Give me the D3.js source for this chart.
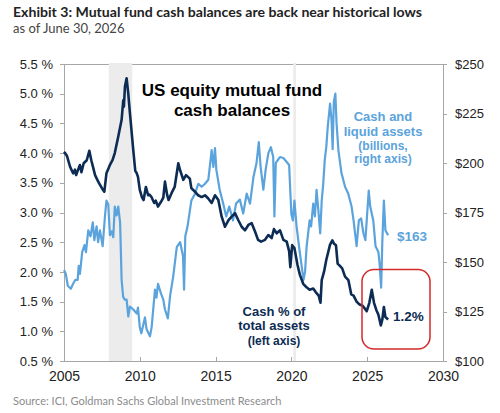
<!doctype html>
<html lang="en">
  <head>
    <meta charset="UTF-8" />
    <title>Mutual fund cash balances</title>
    <script src="https://d3js.org/d3.v7.min.js"></script>
    <style>
      body {
        margin: 0;
        background: #fff;
      }
      .axis text {
        font-family: 'Liberation Sans', Arial, sans-serif;
        fill: #222;
      }
      .axis path,
      .axis line {
        stroke: #a6a6a6;
        shape-rendering: crispEdges;
      }
    </style>
  </head>
  <body>
    <div id="chart"></div>
    <script>
      // Cash % of total assets (left axis)
      const cashPctYears = [
        2005.0, 2005.1, 2005.2, 2005.4, 2005.6, 2005.72, 2005.8, 2005.9, 2006.05, 2006.15,
        2006.3, 2006.5, 2006.67, 2006.8, 2006.9, 2007.05, 2007.2, 2007.3, 2007.5, 2007.66,
        2007.8, 2008.03, 2008.2, 2008.35, 2008.58, 2008.8, 2008.91, 2008.95, 2009.02, 2009.13,
        2009.24, 2009.35, 2009.57, 2009.7, 2009.8, 2009.88, 2010.0, 2010.15, 2010.25, 2010.4,
        2010.55, 2010.65, 2010.77, 2010.95, 2011.05, 2011.2, 2011.4, 2011.55, 2011.66, 2011.8,
        2011.9, 2012.1, 2012.3, 2012.54, 2012.65, 2012.87, 2013.05, 2013.3, 2013.4, 2013.64,
        2013.85, 2014.08, 2014.3, 2014.5, 2014.74, 2014.96, 2015.18, 2015.4, 2015.62, 2015.85,
        2016.06, 2016.28, 2016.5, 2016.72, 2016.94, 2017.16, 2017.38, 2017.6, 2017.8, 2018.0,
        2018.26, 2018.48, 2018.7, 2018.85, 2019.03, 2019.25, 2019.47, 2019.69, 2019.85, 2019.93,
        2020.05, 2020.2, 2020.4, 2020.56, 2020.78, 2021.0, 2021.2, 2021.44, 2021.6, 2021.8,
        2021.92, 2022.0, 2022.15, 2022.3, 2022.55, 2022.7, 2022.8, 2022.94, 2023.05, 2023.2,
        2023.35, 2023.54, 2023.76, 2023.95, 2024.1, 2024.3, 2024.5, 2024.7, 2024.97, 2025.14,
        2025.3, 2025.45, 2025.6, 2025.74, 2025.9, 2026.0, 2026.1, 2026.2, 2026.38,
      ];
      const cashPctValues = [
        4.02, 3.99, 3.95, 3.77, 3.66, 3.72, 3.63, 3.7, 3.8, 3.68,
        3.83, 3.88, 4.04, 3.88, 3.78, 3.63, 3.55, 3.5, 3.41, 3.35,
        3.66, 3.8, 3.88, 4.0, 4.28, 4.56, 4.89, 4.78, 5.12, 5.26,
        5.0, 4.67, 4.05, 3.7, 3.66, 3.6, 3.38, 3.25, 3.21, 3.43,
        3.29, 3.3, 3.26, 3.16, 3.2, 3.1, 3.18, 3.25, 3.52, 3.3,
        3.21, 3.33, 3.43, 3.83, 3.72, 3.55, 3.63, 3.57, 3.41, 3.35,
        3.29, 3.26, 3.29, 3.24, 3.16, 3.29, 3.21, 2.93, 2.76, 2.87,
        2.93, 2.99, 2.87, 2.76, 2.7, 2.79, 2.82, 2.68, 2.54, 2.51,
        2.54, 2.62, 2.57, 2.72, 2.65, 2.7, 2.54, 2.51, 2.35, 2.08,
        2.45, 2.4, 2.12, 1.95, 1.8, 1.74, 1.7, 1.72, 1.66, 1.6,
        1.48, 1.86, 2.0, 2.2, 2.46, 2.53, 2.48, 2.45, 2.14, 2.1,
        2.06, 1.92, 1.86, 1.62, 1.6, 1.5, 1.45, 1.43, 1.34, 1.48,
        1.7, 1.48, 1.36, 1.28, 1.1, 1.2, 1.41, 1.24, 1.2,
      ];

      // Cash and liquid assets, $ billions (right axis)
      const liquidYears = [
        2005.0, 2005.12, 2005.25, 2005.45, 2005.6, 2005.75, 2005.9, 2005.97, 2006.05, 2006.2,
        2006.35, 2006.45, 2006.6, 2006.75, 2006.9, 2007.0, 2007.15, 2007.25, 2007.37, 2007.55,
        2007.7, 2007.8, 2007.92, 2008.03, 2008.15, 2008.25, 2008.35, 2008.47, 2008.58, 2008.7,
        2008.8, 2008.9, 2009.0, 2009.13, 2009.24, 2009.35, 2009.57, 2009.8, 2009.88, 2010.0,
        2010.1, 2010.34, 2010.45, 2010.67, 2010.78, 2011.0, 2011.1, 2011.2, 2011.4, 2011.55,
        2011.66, 2011.85, 2012.0, 2012.2, 2012.44, 2012.66, 2012.85, 2012.92, 2013.0, 2013.15,
        2013.4, 2013.64, 2013.86, 2014.08, 2014.3, 2014.52, 2014.74, 2014.85, 2014.96, 2015.05,
        2015.27, 2015.5, 2015.7, 2015.9, 2016.15, 2016.35, 2016.6, 2016.82, 2017.05, 2017.27,
        2017.5, 2017.7, 2017.85, 2017.97, 2018.15, 2018.3, 2018.48, 2018.65, 2018.8, 2018.88,
        2018.97, 2019.1, 2019.25, 2019.47, 2019.69, 2019.85, 2019.92, 2020.0, 2020.1, 2020.2,
        2020.34, 2020.56, 2020.8, 2020.9, 2021.0, 2021.2, 2021.3, 2021.44, 2021.55, 2021.66,
        2021.78, 2021.9, 2022.0, 2022.1, 2022.2, 2022.3, 2022.4, 2022.55, 2022.65, 2022.72,
        2022.8, 2022.9, 2022.98, 2023.1, 2023.3, 2023.54, 2023.75, 2023.97, 2024.1, 2024.3,
        2024.45, 2024.6, 2024.75, 2024.88, 2024.97, 2025.1, 2025.2, 2025.4, 2025.55, 2025.74,
        2025.82, 2025.92, 2026.0, 2026.1, 2026.2, 2026.38,
      ];
      const liquidValues = [
        146, 144, 138, 136.5, 139, 141, 141, 148, 144, 155,
        158.5, 155, 166, 163, 170, 161, 168, 160, 166, 158,
        173, 181, 179, 163.5, 165.5, 162.5, 178, 173.5, 178, 170,
        141, 132.5, 131, 131, 122.5, 127.5, 126, 124, 127, 117,
        114, 122, 116, 112.5, 117, 136, 132, 139, 134, 131,
        126, 121.5, 133, 142.5, 157.5, 160, 153, 136, 163, 168,
        181, 184.5, 189.5, 188, 189.5, 191.5, 206.5, 198, 207.5, 196.5,
        186.5, 179.5, 173, 178, 171, 179.5, 181.5, 174.5, 184.5, 179.5,
        193, 200, 210.5, 198, 186.5, 196.5, 205, 208, 203, 173,
        200, 201.5, 203, 202.5, 200.5, 199, 187, 174, 171, 181,
        168, 154.5, 141, 145, 157.5, 171, 168, 179.5, 173, 186.5,
        176, 164.5, 181, 189.5, 201.5, 208, 218.5, 230, 221.5, 207,
        231, 235, 220, 206.5, 195, 188, 184.5, 178, 171, 158,
        171, 172, 164.5, 161, 171, 186, 178, 171, 158, 155,
        149, 137, 161, 181, 166, 163.5,
      ];

      const recessions = [
        [2007.95, 2009.5],
        [2020.12, 2020.3],
      ];
      const xTicks = [2005, 2010, 2015, 2020, 2025, 2030];
      const leftTicks = [0.5, 1.0, 1.5, 2.0, 2.5, 3.0, 3.5, 4.0, 4.5, 5.0, 5.5];
      const rightTicks = [100, 125, 150, 175, 200, 225, 250];

      const W = 500;
      const H = 413;
      const plot = { left: 64, right: 443, top: 64, bottom: 361 };
      const navy = '#0d2c54';
      const sky = '#5ba3dc';

      const svg = d3
        .select('#chart')
        .append('svg')
        .attr('width', W)
        .attr('height', H);

      const x = d3.scaleLinear().domain([2005, 2030]).range([plot.left, plot.right]);
      const yL = d3.scaleLinear().domain([0.5, 5.5]).range([plot.bottom, plot.top]);
      const yR = d3.scaleLinear().domain([100, 250]).range([plot.bottom, plot.top]);

      // top frame line
      svg
        .append('line')
        .attr('x1', plot.left)
        .attr('x2', plot.right)
        .attr('y1', plot.top + 0.5)
        .attr('y2', plot.top + 0.5)
        .attr('stroke', '#a6a6a6');

      // recession shading
      svg
        .selectAll('.rec')
        .data(recessions)
        .enter()
        .append('rect')
        .attr('class', 'rec')
        .attr('x', (d) => x(d[0]))
        .attr('width', (d) => x(d[1]) - x(d[0]))
        .attr('y', plot.top - 1)
        .attr('height', plot.bottom - plot.top + 1)
        .attr('fill', '#ececec');

      // axes
      svg
        .append('g')
        .attr('class', 'axis')
        .attr('transform', `translate(${plot.left},0)`)
        .call(
          d3
            .axisLeft(yL)
            .tickValues(leftTicks)
            .tickSize(4)
            .tickPadding(7)
            .tickFormat((d) => d3.format('.1f')(d) + ' %'),
        )
        .selectAll('text')
        .style('font-size', '13px');

      svg
        .append('g')
        .attr('class', 'axis')
        .attr('transform', `translate(${plot.right},0)`)
        .call(
          d3
            .axisRight(yR)
            .tickValues(rightTicks)
            .tickSize(4)
            .tickPadding(8)
            .tickFormat((d) => '$' + d),
        )
        .selectAll('text')
        .style('font-size', '13px');

      svg
        .append('g')
        .attr('class', 'axis')
        .attr('transform', `translate(0,${plot.bottom})`)
        .call(
          d3
            .axisBottom(x)
            .tickValues(xTicks)
            .tickSize(-4)
            .tickPadding(10)
            .tickFormat(d3.format('d')),
        )
        .selectAll('text')
        .style('font-size', '14px');

      // lines
      const liquidLine = d3
        .line()
        .x((d, i) => x(liquidYears[i]))
        .y((d) => yR(d));
      const pctLine = d3
        .line()
        .x((d, i) => x(cashPctYears[i]))
        .y((d) => yL(d));

      svg
        .append('path')
        .datum(liquidValues)
        .attr('d', liquidLine)
        .attr('fill', 'none')
        .attr('stroke', sky)
        .attr('stroke-width', 2.2)
        .attr('stroke-linejoin', 'round');

      svg
        .append('path')
        .datum(cashPctValues)
        .attr('d', pctLine)
        .attr('fill', 'none')
        .attr('stroke', navy)
        .attr('stroke-width', 2.6)
        .attr('stroke-linejoin', 'round');

      // red highlight box
      svg
        .append('rect')
        .attr('x', 362)
        .attr('y', 269.5)
        .attr('width', 68)
        .attr('height', 79.5)
        .attr('rx', 12)
        .attr('fill', 'none')
        .attr('stroke', '#d42a2a')
        .attr('stroke-width', 1.5);

      // titles
      const sans = 'Lato, "Open Sans", sans-serif';
      svg
        .append('text')
        .attr('x', 13)
        .attr('y', 17)
        .style('font-family', sans)
        .style('font-weight', 'bold')
        .style('font-size', '14.1px')
        .attr('fill', '#222')
        .text('Exhibit 3: Mutual fund cash balances are back near historical lows');
      svg
        .append('text')
        .attr('x', 13)
        .attr('y', 33)
        .style('font-family', sans)
        .style('font-size', '13px')
        .attr('fill', '#444')
        .text('as of June 30, 2026');
      svg
        .append('text')
        .attr('x', 13)
        .attr('y', 405)
        .style('font-family', sans)
        .style('font-size', '11px')
        .attr('fill', '#8c8c8c')
        .text('Source: ICI, Goldman Sachs Global Investment Research');

      // annotations
      const arial = '"Liberation Sans", Arial, sans-serif';
      function label(lines, cx, y0, step, size, color) {
        lines.forEach((t, i) => {
          svg
            .append('text')
            .attr('x', cx)
            .attr('y', y0 + d3.sum(step.slice(0, i + 1)))
            .attr('text-anchor', 'middle')
            .style('font-family', arial)
            .style('font-weight', 'bold')
            .style('font-size', size[i] + 'px')
            .attr('fill', color)
            .text(t);
        });
      }
      label(['US equity mutual fund', 'cash balances'], 232, 96, [0, 20], [17, 17], '#000');
      label(
        ['Cash and', 'liquid assets', '(billions,', 'right axis)'],
        383,
        121,
        [0, 14.5, 14, 13],
        [13, 13, 12, 12],
        sky,
      );
      label(
        ['Cash % of', 'total assets', '(left axis)'],
        274,
        316,
        [0, 14, 14.5],
        [13, 13, 12],
        navy,
      );

      svg
        .append('text')
        .attr('x', 393)
        .attr('y', 321)
        .style('font-family', arial)
        .style('font-weight', 'bold')
        .style('font-size', '13.5px')
        .attr('fill', navy)
        .text('1.2%');
      svg
        .append('text')
        .attr('x', 397)
        .attr('y', 241)
        .style('font-family', arial)
        .style('font-weight', 'bold')
        .style('font-size', '13.5px')
        .attr('fill', sky)
        .text('$163');
    </script>
  </body>
</html>
